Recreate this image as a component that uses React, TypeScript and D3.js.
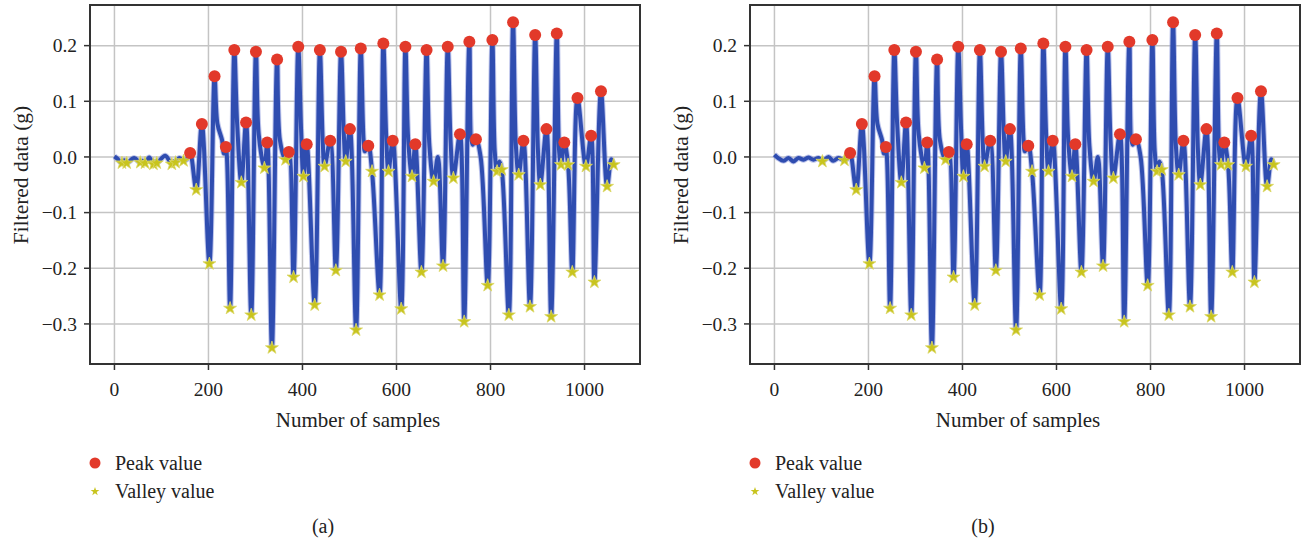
import React from "react";
import * as d3 from "d3";

// ---- data ----
const xTicks = [0, 200, 400, 600, 800, 1000];
const yTicks = [-0.3, -0.2, -0.1, 0.0, 0.1, 0.2];

const peakSamples = [161, 186, 213, 237, 255, 280, 301, 325, 346, 371, 391, 409, 437, 459, 482, 501, 524, 540, 572, 592, 619, 640, 664, 709, 735, 755, 769, 804, 848, 870, 895, 919, 941, 957, 985, 1014, 1035];
const peakValues = [0.007, 0.059, 0.145, 0.018, 0.192, 0.062, 0.189, 0.026, 0.175, 0.009, 0.198, 0.023, 0.192, 0.029, 0.189, 0.050, 0.195, 0.020, 0.204, 0.029, 0.198, 0.023, 0.192, 0.198, 0.041, 0.207, 0.032, 0.210, 0.242, 0.029, 0.219, 0.050, 0.222, 0.026, 0.106, 0.038, 0.118];

const valleySamples = [174, 202, 246, 270, 291, 319, 335, 364, 381, 402, 426, 447, 471, 492, 514, 548, 564, 583, 610, 633, 653, 679, 699, 721, 744, 794, 814, 824, 839, 860, 884, 906, 929, 950, 965, 974, 1003, 1021, 1048, 1062];
const valleyValues = [-0.059, -0.192, -0.272, -0.046, -0.284, -0.020, -0.343, -0.005, -0.216, -0.035, -0.266, -0.017, -0.204, -0.008, -0.311, -0.026, -0.248, -0.026, -0.273, -0.035, -0.207, -0.044, -0.196, -0.038, -0.296, -0.231, -0.026, -0.023, -0.284, -0.032, -0.269, -0.050, -0.287, -0.014, -0.014, -0.207, -0.017, -0.225, -0.053, -0.014];

// other line vertices (shoulders between markers)
const shoulderSamples = [219, 229, 233, 261, 307, 352, 397, 443, 488, 530, 533, 578, 625, 670, 688, 715, 762, 779, 809, 819, 854, 901, 946, 1057];
const shoulderValues = [0.060, 0.030, 0.006, 0.060, 0.040, 0.030, 0.050, 0.030, 0.040, 0.030, 0.010, 0.040, 0.030, 0.020, 0.000, 0.030, 0.022, 0.000, 0.010, -0.008, 0.020, 0.010, 0.010, -0.004];

// quiet start, panel (a)
const quietStarSamplesA = [16, 26, 55, 65, 83, 90, 122, 130, 147];
const quietStarValuesA = [-0.011, -0.011, -0.010, -0.011, -0.013, -0.011, -0.013, -0.010, -0.007];
const quietLineSamplesA = [0, 6, 21, 42, 60, 74, 87, 108, 126, 138, 154];
const quietLineValuesA = [0.001, -0.003, -0.006, -0.002, -0.007, -0.001, -0.008, 0.002, -0.008, -0.002, -0.004];

// quiet start, panel (b)
const quietStarSamplesB = [102, 149];
const quietStarValuesB = [-0.008, -0.006];
const quietLineSamplesB = [0, 8, 19, 30, 40, 51, 62, 72, 83, 94, 115, 125, 136, 155];
const quietLineValuesB = [0.004, -0.002, -0.007, -0.002, -0.008, -0.002, -0.005, -0.001, -0.005, -0.002, 0.000, -0.007, -0.002, -0.003];

const FONT = "'Liberation Serif', 'Times New Roman', serif";
const BLUE = "#2f4db0";
const RED = "#e2392a";
const YELLOW = "#c8c41e";

type Pt = { x: number; y: number };

const zip = (xs: number[], ys: number[]): Pt[] => xs.map((x, i) => ({ x, y: ys[i] }));

function Panel({ dx, starX, starY, lineX, lineY, caption }: { dx: number; starX: number[]; starY: number[]; lineX: number[]; lineY: number[]; caption: string }) {
  const left = 90, right = 640, top = 5, bottom = 364;
  const x = d3.scaleLinear().domain([-52, 1118]).range([left, right]);
  const y = d3.scaleLinear().domain([-0.372, 0.273]).range([bottom, top]);

  const peaks = zip(peakSamples, peakValues);
  const valleys = zip(starX, starY).concat(zip(valleySamples, valleyValues));
  const linePts = [...peaks, ...valleys, ...zip(shoulderSamples, shoulderValues), ...zip(lineX, lineY)].sort((a, b) => a.x - b.x);

  const line = d3.line<Pt>().x((d) => x(d.x)).y((d) => y(d.y)).curve(d3.curveCatmullRom.alpha(0.5));
  const star = d3.symbol().type(d3.symbolStar).size(52)();
  const legendStar = d3.symbol().type(d3.symbolStar).size(24)();
  const fmt = d3.format(".1f");

  return (
    <g transform={`translate(${dx},0)`}>
      <rect x={left} y={top} width={right - left} height={bottom - top} fill="#fff" />
      {xTicks.map((t) => (
        <line key={"gx" + t} x1={x(t)} x2={x(t)} y1={top} y2={bottom} stroke="#c4c4c4" strokeWidth={1.5} />
      ))}
      {yTicks.map((t) => (
        <line key={"gy" + t} x1={left} x2={right} y1={y(t)} y2={y(t)} stroke="#c4c4c4" strokeWidth={1.5} />
      ))}
      <path d={line(linePts) || ""} fill="none" stroke="#8a98dc" strokeWidth={6} strokeLinejoin="round" opacity={0.55} />
      <path d={line(linePts) || ""} fill="none" stroke={BLUE} strokeWidth={4} strokeLinejoin="round" />
      {valleys.map((d, i) => (
        <path key={"v" + i} d={star || ""} transform={`translate(${x(d.x)},${y(d.y)})`} fill={YELLOW} stroke="#dcd86a" strokeWidth={0.8} />
      ))}
      {peaks.map((d, i) => (
        <circle key={"p" + i} cx={x(d.x)} cy={y(d.y)} r={6} fill={RED} />
      ))}
      <rect x={left} y={top} width={right - left} height={bottom - top} fill="none" stroke="#333" strokeWidth={2} />
      {xTicks.map((t) => (
        <g key={"tx" + t}>
          <line x1={x(t)} x2={x(t)} y1={bottom} y2={bottom + 6} stroke="#333" strokeWidth={1.5} />
          <text x={x(t)} y={396} textAnchor="middle" fontFamily={FONT} fontSize={19.5} fill="#222">{t}</text>
        </g>
      ))}
      {yTicks.map((t) => (
        <g key={"ty" + t}>
          <line x1={left - 6} x2={left} y1={y(t)} y2={y(t)} stroke="#333" strokeWidth={1.5} />
          <text x={77} y={y(t)} dy="0.35em" textAnchor="end" fontFamily={FONT} fontSize={19.5} fill="#222">{fmt(t)}</text>
        </g>
      ))}
      <text x={358} y={427} textAnchor="middle" fontFamily={FONT} fontSize={21} fill="#222">Number of samples</text>
      <text transform="translate(28,175) rotate(-90)" textAnchor="middle" fontFamily={FONT} fontSize={21.5} fill="#222">Filtered data (g)</text>
      <circle cx={95} cy={463} r={5.5} fill={RED} />
      <text x={115} y={469.5} fontFamily={FONT} fontSize={20} fill="#222">Peak value</text>
      <path d={legendStar || ""} transform="translate(95,491.5)" fill={YELLOW} />
      <text x={115} y={498} fontFamily={FONT} fontSize={20} fill="#222">Valley value</text>
      <text x={323} y={533} textAnchor="middle" fontFamily={FONT} fontSize={20} fill="#222">{caption}</text>
    </g>
  );
}

export default function App() {
  return (
    <svg width={1313} height={547} style={{ position: "absolute", left: 0, top: 0, background: "#fff" }}>
      <rect width={1313} height={547} fill="#fff" />
      <Panel dx={0} starX={quietStarSamplesA} starY={quietStarValuesA} lineX={quietLineSamplesA} lineY={quietLineValuesA} caption="(a)" />
      <Panel dx={660} starX={quietStarSamplesB} starY={quietStarValuesB} lineX={quietLineSamplesB} lineY={quietLineValuesB} caption="(b)" />
    </svg>
  );
}
